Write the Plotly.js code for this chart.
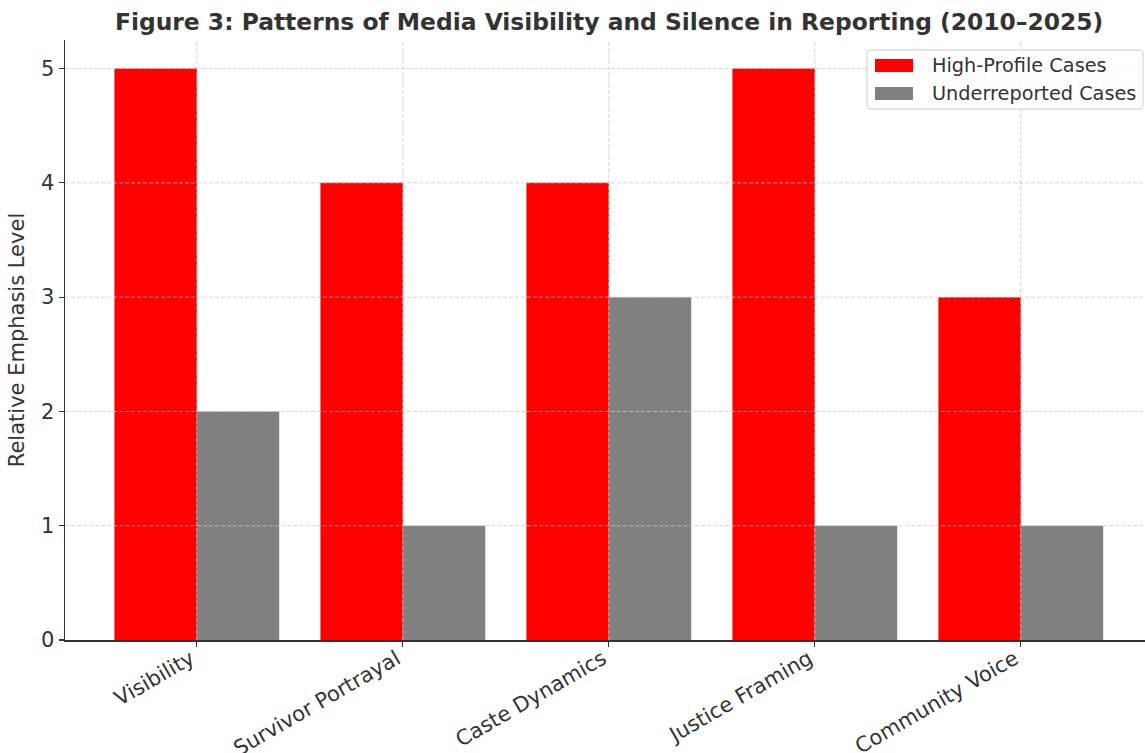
<!DOCTYPE html>
<html>
<head>
<meta charset="utf-8">
<script src="https://cdn.plot.ly/plotly-3.0.1.min.js"></script>
<style>html,body{margin:0;padding:0;background:#fff;}#chart{width:1145px;height:753px;}</style>
</head>
<body>
<div id="chart"></div>
<script>
var categories = ["Visibility", "Survivor Portrayal", "Caste Dynamics", "Justice Framing", "Community Voice"];
var highProfile = [5, 4, 4, 5, 3];
var underreported = [2, 1, 3, 1, 1];
var seriesNames = ["High-Profile Cases", "Underreported Cases"];
var seriesColors = ["#ff0000", "#808080"];
var yTicks = [0, 1, 2, 3, 4, 5];

var idx = categories.map(function (_, i) { return i; });
var font = "DejaVu Sans, sans-serif";
var gridStyle = {color: "rgba(200,200,200,0.75)", width: 1, dash: "4px,2px"};

var traces = [
  {type: "bar", x: idx, y: highProfile, name: seriesNames[0],
   marker: {color: seriesColors[0], line: {width: 0}}},
  {type: "bar", x: idx, y: underreported, name: seriesNames[1],
   marker: {color: seriesColors[1], line: {width: 0}}}
];

var shapes = [];
// grid lines drawn above the bars, as in the reference
idx.forEach(function (v) {
  shapes.push({type: "line", xref: "x", yref: "paper", x0: v, x1: v, y0: 0, y1: 1,
    layer: "above", line: gridStyle});
});
yTicks.forEach(function (v) {
  if (v === 0) return;
  shapes.push({type: "line", xref: "paper", yref: "y", x0: 0, x1: 1, y0: v, y1: v,
    layer: "above", line: gridStyle});
});

// Legend box drawn in paper coordinates (matplotlib-style wide patches)
function roundRect(x0, y0, x1, y1, rx, ry) {
  return "M" + (x0 + rx) + "," + y0 + " L" + (x1 - rx) + "," + y0 +
    " Q" + x1 + "," + y0 + " " + x1 + "," + (y0 + ry) +
    " L" + x1 + "," + (y1 - ry) + " Q" + x1 + "," + y1 + " " + (x1 - rx) + "," + y1 +
    " L" + (x0 + rx) + "," + y1 + " Q" + x0 + "," + y1 + " " + x0 + "," + (y1 - ry) +
    " L" + x0 + "," + (y0 + ry) + " Q" + x0 + "," + y0 + " " + (x0 + rx) + "," + y0 + " Z";
}
var legBox = {x0: 0.7426, x1: 0.9981, y0: 0.885, y1: 0.9833};
var patchX = [0.75, 0.7852];
var patchY = [[0.9467, 0.9683], [0.9, 0.9217]];
var textX = 0.8009;
var textY = [0.9575, 0.9108];

shapes.push({
  type: "path", xref: "paper", yref: "paper", layer: "above",
  path: roundRect(legBox.x0, legBox.y0, legBox.x1, legBox.y1, 0.0037, 0.0067),
  fillcolor: "rgba(255,255,255,0.9)", line: {color: "#cccccc", width: 1}
});
var annotations = [];
seriesNames.forEach(function (nm, i) {
  shapes.push({type: "rect", xref: "paper", yref: "paper", layer: "above",
    x0: patchX[0], x1: patchX[1], y0: patchY[i][0], y1: patchY[i][1],
    fillcolor: seriesColors[i], line: {width: 0}});
  annotations.push({xref: "paper", yref: "paper", x: textX, y: textY[i],
    xanchor: "left", yanchor: "middle", showarrow: false, text: nm,
    font: {family: font, size: 19.3, color: "#333"}});
});

var layout = {
  width: 1145, height: 753,
  margin: {l: 65, r: 0, t: 40, b: 113},
  paper_bgcolor: "#fff", plot_bgcolor: "#fff",
  barmode: "group", bargap: 0.2, bargroupgap: 0,
  font: {family: font, color: "#333", size: 21},
  title: {text: "<b>Figure 3: Patterns of Media Visibility and Silence in Reporting (2010\u20132025)</b>",
          font: {family: font, size: 23.4, color: "#333"},
          x: 0.532, xanchor: "center", y: 0.971, yanchor: "middle"},
  xaxis: {
    range: [-0.64, 4.603], tickmode: "array", tickvals: idx, ticktext: categories,
    tickangle: -30, ticks: "outside", ticklen: 5, tickwidth: 1.2, tickcolor: "#333",
    ticklabelstandoff: -8, ticklabelshift: -6,
    showline: true, linecolor: "#333", linewidth: 1.5, mirror: false,
    showgrid: false, layer: "above traces",
    tickfont: {family: font, size: 21, color: "#333"}, zeroline: false
  },
  yaxis: {
    range: [0, 5.25], tickmode: "array", tickvals: yTicks,
    ticks: "outside", ticklen: 5, tickwidth: 1.2, tickcolor: "#333",
    showline: true, linecolor: "#333", linewidth: 1.5,
    showgrid: false, layer: "above traces",
    tickfont: {family: font, size: 21, color: "#333"}, zeroline: false,
    title: {text: "Relative Emphasis Level", font: {family: font, size: 21, color: "#333"}, standoff: 10}
  },
  shapes: shapes,
  annotations: annotations,
  showlegend: false
};

Plotly.newPlot("chart", traces, layout, {displayModeBar: false, staticPlot: true});
</script>
</body>
</html>
